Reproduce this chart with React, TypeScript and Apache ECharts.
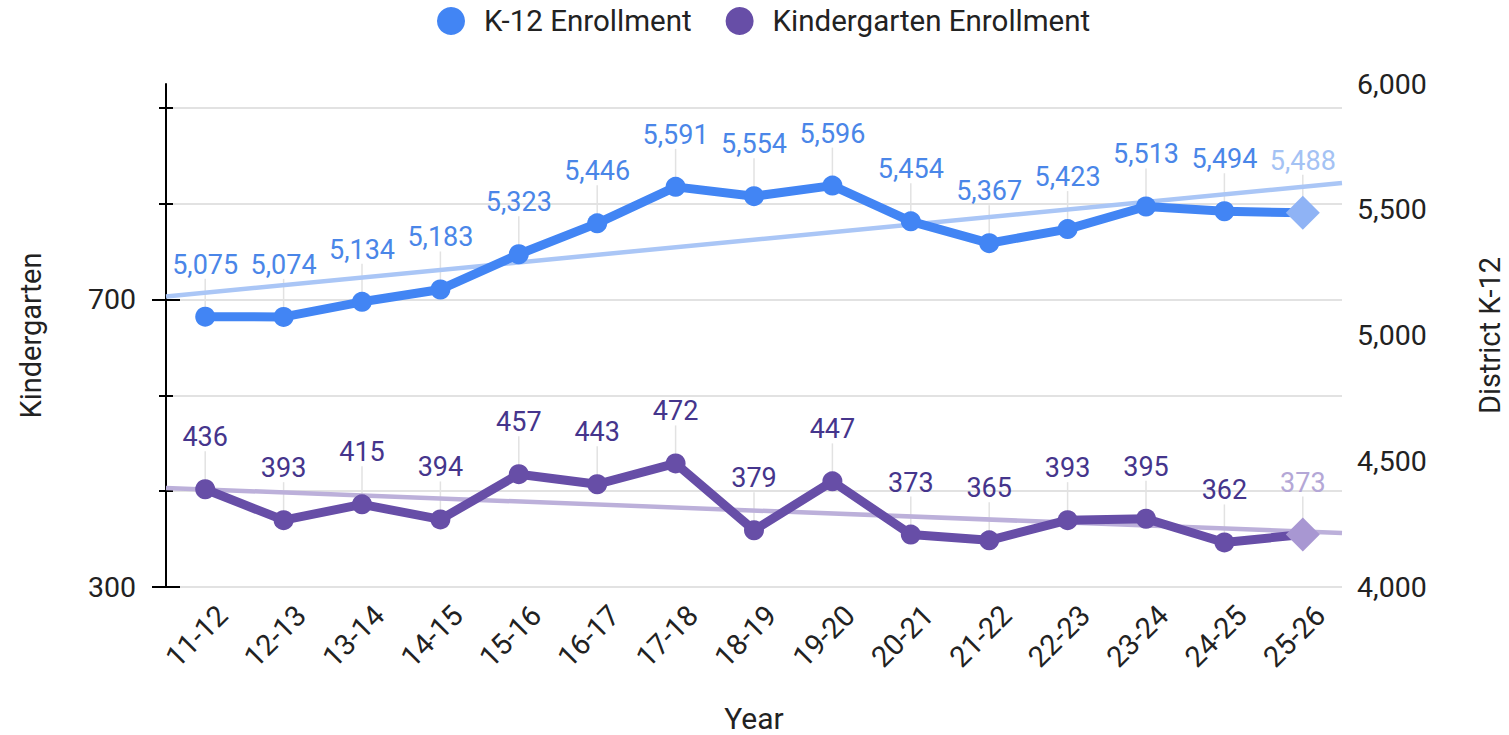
import React, { useEffect, useRef } from 'react';
import * as echarts from 'echarts';

const years = ['11-12', '12-13', '13-14', '14-15', '15-16', '16-17', '17-18', '18-19', '19-20', '20-21', '21-22', '22-23', '23-24', '24-25', '25-26'];
const k12 = [5075, 5074, 5134, 5183, 5323, 5446, 5591, 5554, 5596, 5454, 5367, 5423, 5513, 5494, 5488];
const kinder = [436, 393, 415, 394, 457, 443, 472, 379, 447, 373, 365, 393, 395, 362, 373];

const kMin = 300;
const kMax = 1000;
const kTickStep = 400 / 3;
const kTicks = [0, 1, 2, 3, 4, 5].map((i) => kMin + i * kTickStep);
const kLabelTicks = [300, 700];
const k12Min = 4000;
const k12Max = 6000;
const k12Step = 500;

const FONT = 'Roboto';
const BLUE = '#4285f4';
const PURPLE = '#674ea7';

function trendEnds(vals: number[]): number[][] {
  const n = vals.length;
  const mx = (n - 1) / 2;
  const my = vals.reduce((a, b) => a + b, 0) / n;
  let sxy = 0;
  let sxx = 0;
  vals.forEach((v, i) => {
    sxy += (i - mx) * (v - my);
    sxx += (i - mx) * (i - mx);
  });
  const slope = sxy / sxx;
  const x0 = -0.5;
  const x1 = n - 0.5;
  return [
    [x0, my + slope * (x0 - mx)],
    [x1, my + slope * (x1 - mx)],
  ];
}

function seriesData(vals: number[], lightColor: string, lightLabel: string) {
  return vals.map((v, i) =>
    i === vals.length - 1
      ? {
          value: v,
          symbol: 'diamond',
          symbolSize: 34,
          itemStyle: { color: lightColor },
          label: { color: lightLabel },
        }
      : v
  );
}

function leader(name: string, yIdx: number, vals: number[]) {
  return {
    name,
    type: 'custom',
    xAxisIndex: 0,
    yAxisIndex: yIdx,
    silent: true,
    z: 1,
    data: vals.map((v, i) => [i, v]),
    renderItem: (params: any, api: any) => {
      const p = api.coord([api.value(0), api.value(1)]);
      return {
        type: 'line',
        shape: { x1: p[0], y1: p[1], x2: p[0], y2: p[1] - 38 },
        style: { stroke: '#e2e2e2', lineWidth: 1.5 },
      };
    },
  };
}

const helperAxis = (len: number, inside: boolean, values: number[]) => ({
  type: 'value',
  position: 'left',
  min: kMin,
  max: kMax,
  axisLine: { show: false, onZero: false },
  axisLabel: { show: false },
  splitLine: { show: false },
  axisTick: { show: true, inside, length: len, customValues: values, lineStyle: { color: '#000', width: 2 } },
});

export default function App() {
  const ref = useRef<HTMLDivElement>(null);
  useEffect(() => {
    document.body.style.margin = '0';
    const chart = echarts.init(ref.current!, null, { renderer: 'svg' });
    const fmt = (v: number) => Number(v).toLocaleString('en-US');
    chart.setOption({
      animation: false,
      textStyle: { fontFamily: FONT },
      legend: {
        top: 1,
        left: 432,
        icon: 'circle',
        itemWidth: 28,
        itemHeight: 28,
        itemGap: 34,
        data: ['K-12 Enrollment', 'Kindergarten Enrollment'],
        textStyle: { fontSize: 29.5, color: '#222', fontFamily: FONT, padding: [0, 0, 0, 14] },
      },
      grid: { left: 166, right: 167, top: 84, bottom: 148, containLabel: false, outerBoundsMode: 'none' },
      xAxis: [
        {
          type: 'category',
          data: years,
          name: 'Year',
          nameLocation: 'middle',
          nameGap: 116,
          nameTextStyle: { fontSize: 30, color: '#222', fontFamily: FONT },
          axisLine: { show: false },
          axisTick: { show: false },
          axisLabel: {
            rotate: 45,
            fontSize: 29,
            color: '#222',
            fontFamily: FONT,
            margin: 6,
            padding: [10, 0, 0, 0],
            align: 'right',
            verticalAlign: 'top',
            interval: 0,
          },
        },
        { type: 'value', min: -0.5, max: years.length - 0.5, show: false },
      ],
      yAxis: [
        {
          type: 'value',
          position: 'left',
          min: kMin,
          max: kMax,
          name: 'Kindergarten',
          nameLocation: 'middle',
          nameGap: 121,
          nameRotate: 90,
          nameTextStyle: { fontSize: 29, color: '#222', fontFamily: FONT },
          axisLine: { show: true, onZero: false, lineStyle: { color: '#000', width: 2 } },
          axisTick: { show: true, length: 7, customValues: kTicks, lineStyle: { color: '#000', width: 2 } },
          axisLabel: { customValues: kLabelTicks, fontSize: 28.5, color: '#222', margin: 30, fontFamily: FONT },
          splitLine: { show: true, lineStyle: { color: '#d9d9d9', width: 1.5 } },
        },
        {
          type: 'value',
          position: 'right',
          min: k12Min,
          max: k12Max,
          interval: k12Step,
          name: 'District K-12',
          nameLocation: 'middle',
          nameGap: 133,
          nameRotate: 90,
          nameTextStyle: { fontSize: 29, color: '#222', fontFamily: FONT },
          axisLine: { show: false, onZero: false },
          axisTick: { show: false },
          splitLine: { show: false },
          axisLabel: { fontSize: 28.5, color: '#222', margin: 15, fontFamily: FONT, formatter: fmt },
        },
        helperAxis(7, true, kTicks),
        helperAxis(14, false, kLabelTicks),
        helperAxis(14, true, kLabelTicks),
      ],
      series: [
        {
          name: 'K-12 trend',
          type: 'line',
          xAxisIndex: 1,
          yAxisIndex: 1,
          data: trendEnds(k12),
          symbol: 'none',
          silent: true,
          z: 1,
          lineStyle: { color: '#aac6f6', width: 4.5 },
        },
        {
          name: 'Kindergarten trend',
          type: 'line',
          xAxisIndex: 1,
          yAxisIndex: 0,
          data: trendEnds(kinder),
          symbol: 'none',
          silent: true,
          z: 1,
          lineStyle: { color: '#bcb0da', width: 4.5 },
        },
        leader('K-12 leader', 1, k12),
        leader('Kindergarten leader', 0, kinder),
        {
          name: 'K-12 Enrollment',
          type: 'line',
          xAxisIndex: 0,
          yAxisIndex: 1,
          data: seriesData(k12, '#8fb3f5', '#a4c2f4'),
          symbol: 'circle',
          symbolSize: 20,
          showAllSymbol: true,
          z: 3,
          itemStyle: { color: BLUE },
          lineStyle: { color: BLUE, width: 9 },
          label: {
            show: true,
            position: 'inside',
            offset: [0, -52],
            fontSize: 27,
            color: '#4a86e8',
            fontFamily: FONT,
            formatter: (p: any) => fmt(typeof p.value === 'object' ? p.value.value : p.value),
          },
        },
        {
          name: 'Kindergarten Enrollment',
          type: 'line',
          xAxisIndex: 0,
          yAxisIndex: 0,
          data: seriesData(kinder, '#a897d2', '#b4a7d6'),
          symbol: 'circle',
          symbolSize: 20,
          showAllSymbol: true,
          z: 3,
          itemStyle: { color: PURPLE },
          lineStyle: { color: PURPLE, width: 9 },
          label: {
            show: true,
            position: 'inside',
            offset: [0, -52],
            fontSize: 27,
            color: '#45358c',
            fontFamily: FONT,
            formatter: (p: any) => fmt(typeof p.value === 'object' ? p.value.value : p.value),
          },
        },
      ],
    });
    return () => chart.dispose();
  }, []);
  return <div ref={ref} style={{ width: 1509, height: 735 }} />;
}
